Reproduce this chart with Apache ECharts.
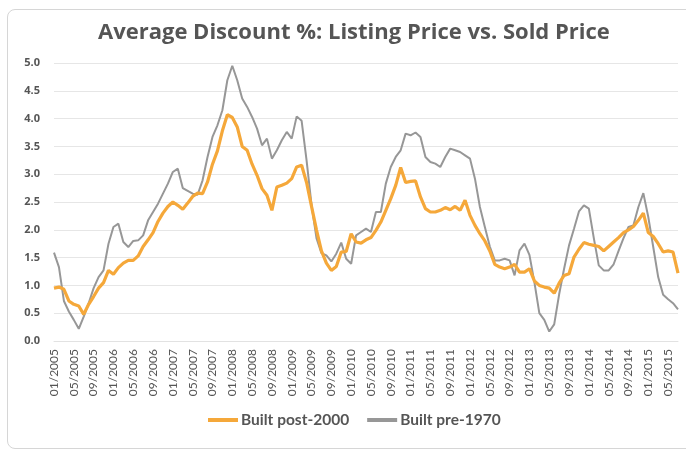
<!DOCTYPE html>
<html>
<head>
<meta charset="utf-8">
<script src="https://cdn.jsdelivr.net/npm/echarts@6/dist/echarts.min.js"></script>
<style>
  html, body { margin: 0; padding: 0; background: #fff; }
  #wrap { position: relative; width: 686px; height: 452px; overflow: hidden; }
  #card { position: absolute; left: 7px; top: 9px; width: 720px; height: 438px;
          border: 1px solid #d6d6d6; border-radius: 8px; background: #fff; }
  #main { position: absolute; left: 0; top: 0; width: 686px; height: 452px; }
</style>
</head>
<body>
<div id="wrap">
  <div id="card"></div>
  <div id="main"></div>
</div>
<script>
// monthly series, 01/2005 .. 07/2015
var startYear = 2005, monthCount = 127;
var months = [];
for (var i = 0; i < monthCount; i++) {
    var m = i % 12 + 1, y = startYear + Math.floor(i / 12);
    months.push((m < 10 ? '0' : '') + m + '/' + y);
}

var post2000 = [
    0.95,0.97,0.93,0.72,0.66,0.63,0.48,0.66,0.80,0.95,
    1.05,1.27,1.20,1.32,1.40,1.45,1.45,1.53,1.70,1.82,
    1.95,2.15,2.30,2.42,2.50,2.44,2.37,2.48,2.60,2.66,
    2.65,2.86,3.18,3.42,3.78,4.07,4.02,3.85,3.50,3.43,
    3.18,2.98,2.74,2.62,2.35,2.77,2.80,2.84,2.92,3.13,
    3.16,2.85,2.42,2.00,1.62,1.40,1.27,1.34,1.60,1.61,
    1.93,1.78,1.76,1.82,1.86,1.99,2.14,2.35,2.56,2.80,
    3.12,2.85,2.87,2.88,2.59,2.38,2.32,2.32,2.35,2.40,
    2.36,2.42,2.35,2.53,2.26,2.08,1.93,1.80,1.62,1.38,
    1.33,1.30,1.33,1.38,1.24,1.24,1.30,1.08,1.00,0.97,
    0.95,0.86,1.04,1.18,1.21,1.51,1.65,1.77,1.74,1.72,
    1.70,1.62,1.70,1.78,1.86,1.95,2.00,2.06,2.17,2.30,
    1.95,1.88,1.75,1.60,1.62,1.60,1.22
];
var pre1970 = [
    1.59,1.33,0.72,0.53,0.38,0.22,0.44,0.68,0.95,1.15,
    1.27,1.75,2.05,2.11,1.78,1.69,1.80,1.81,1.90,2.17,
    2.32,2.47,2.65,2.83,3.04,3.10,2.75,2.70,2.65,2.63,
    2.89,3.31,3.67,3.88,4.15,4.69,4.95,4.69,4.36,4.21,
    4.03,3.82,3.52,3.64,3.28,3.43,3.61,3.76,3.64,4.04,
    3.96,3.25,2.45,1.85,1.58,1.54,1.43,1.57,1.77,1.48,
    1.39,1.90,1.96,2.02,1.96,2.32,2.32,2.83,3.13,3.31,
    3.43,3.73,3.70,3.75,3.67,3.31,3.22,3.19,3.13,3.31,
    3.46,3.43,3.40,3.34,3.28,2.92,2.41,2.05,1.70,1.45,
    1.45,1.48,1.45,1.18,1.63,1.75,1.55,1.06,0.50,0.38,
    0.17,0.30,0.84,1.30,1.72,2.02,2.33,2.44,2.38,1.85,
    1.36,1.27,1.27,1.38,1.62,1.85,2.05,2.08,2.41,2.66,
    2.23,1.69,1.15,0.83,0.75,0.68,0.57
];

var chartDom = document.getElementById('main');
var myChart = echarts.init(chartDom, null, {renderer: 'canvas'});
var option;
option = {
    backgroundColor: 'transparent',
    animation: false,
    title: {
        text: 'Average Discount %: Listing Price vs. Sold Price',
        left: 93,
        top: 17,
        textStyle: {
            fontFamily: 'Open Sans',
            fontWeight: 'bold',
            fontSize: 22,
            color: '#555555'
        }
    },
    legend: {
        data: ['Built post-2000', 'Built pre-1970'],
        top: 407,
        left: 203,
        itemWidth: 30,
        itemHeight: 4,
        itemGap: 18,
        icon: 'rect',
        textStyle: {
            fontFamily: 'Lato',
            fontWeight: 'bold',
            fontSize: 15.5,
            color: '#555555',
            padding: [0, 0, 0, -2]
        }
    },
    grid: {
        left: 54,
        right: 8,
        top: 63,
        bottom: 111
    },
    xAxis: {
        type: 'category',
        data: months,
        boundaryGap: false,
        axisLine: {lineStyle: {color: '#e2e2e2'}},
        axisTick: {show: false},
        axisLabel: {
            interval: 3,
            rotate: 90,
            margin: 8,
            fontFamily: 'Lato',
            fontSize: 12,
            color: '#555555'
        }
    },
    yAxis: {
        type: 'value',
        min: 0,
        max: 5,
        interval: 0.5,
        axisLine: {show: false},
        axisTick: {show: false},
        splitLine: {lineStyle: {color: '#e6e6e6', width: 1}},
        axisLabel: {
            margin: 14,
            fontFamily: 'Open Sans',
            fontWeight: 'bold',
            fontSize: 11,
            color: '#555555',
            formatter: function (v) { return v.toFixed(1); }
        }
    },
    series: [
        {
            name: 'Built post-2000',
            type: 'line',
            data: post2000,
            symbol: 'none',
            z: 3,
            itemStyle: {color: '#f5a83a'},
            lineStyle: {color: '#f5a83a', width: 3.2}
        },
        {
            name: 'Built pre-1970',
            type: 'line',
            data: pre1970,
            symbol: 'none',
            z: 2,
            itemStyle: {color: '#979797'},
            lineStyle: {color: '#979797', width: 2}
        }
    ]
};
option && myChart.setOption(option);
</script>
</body>
</html>
